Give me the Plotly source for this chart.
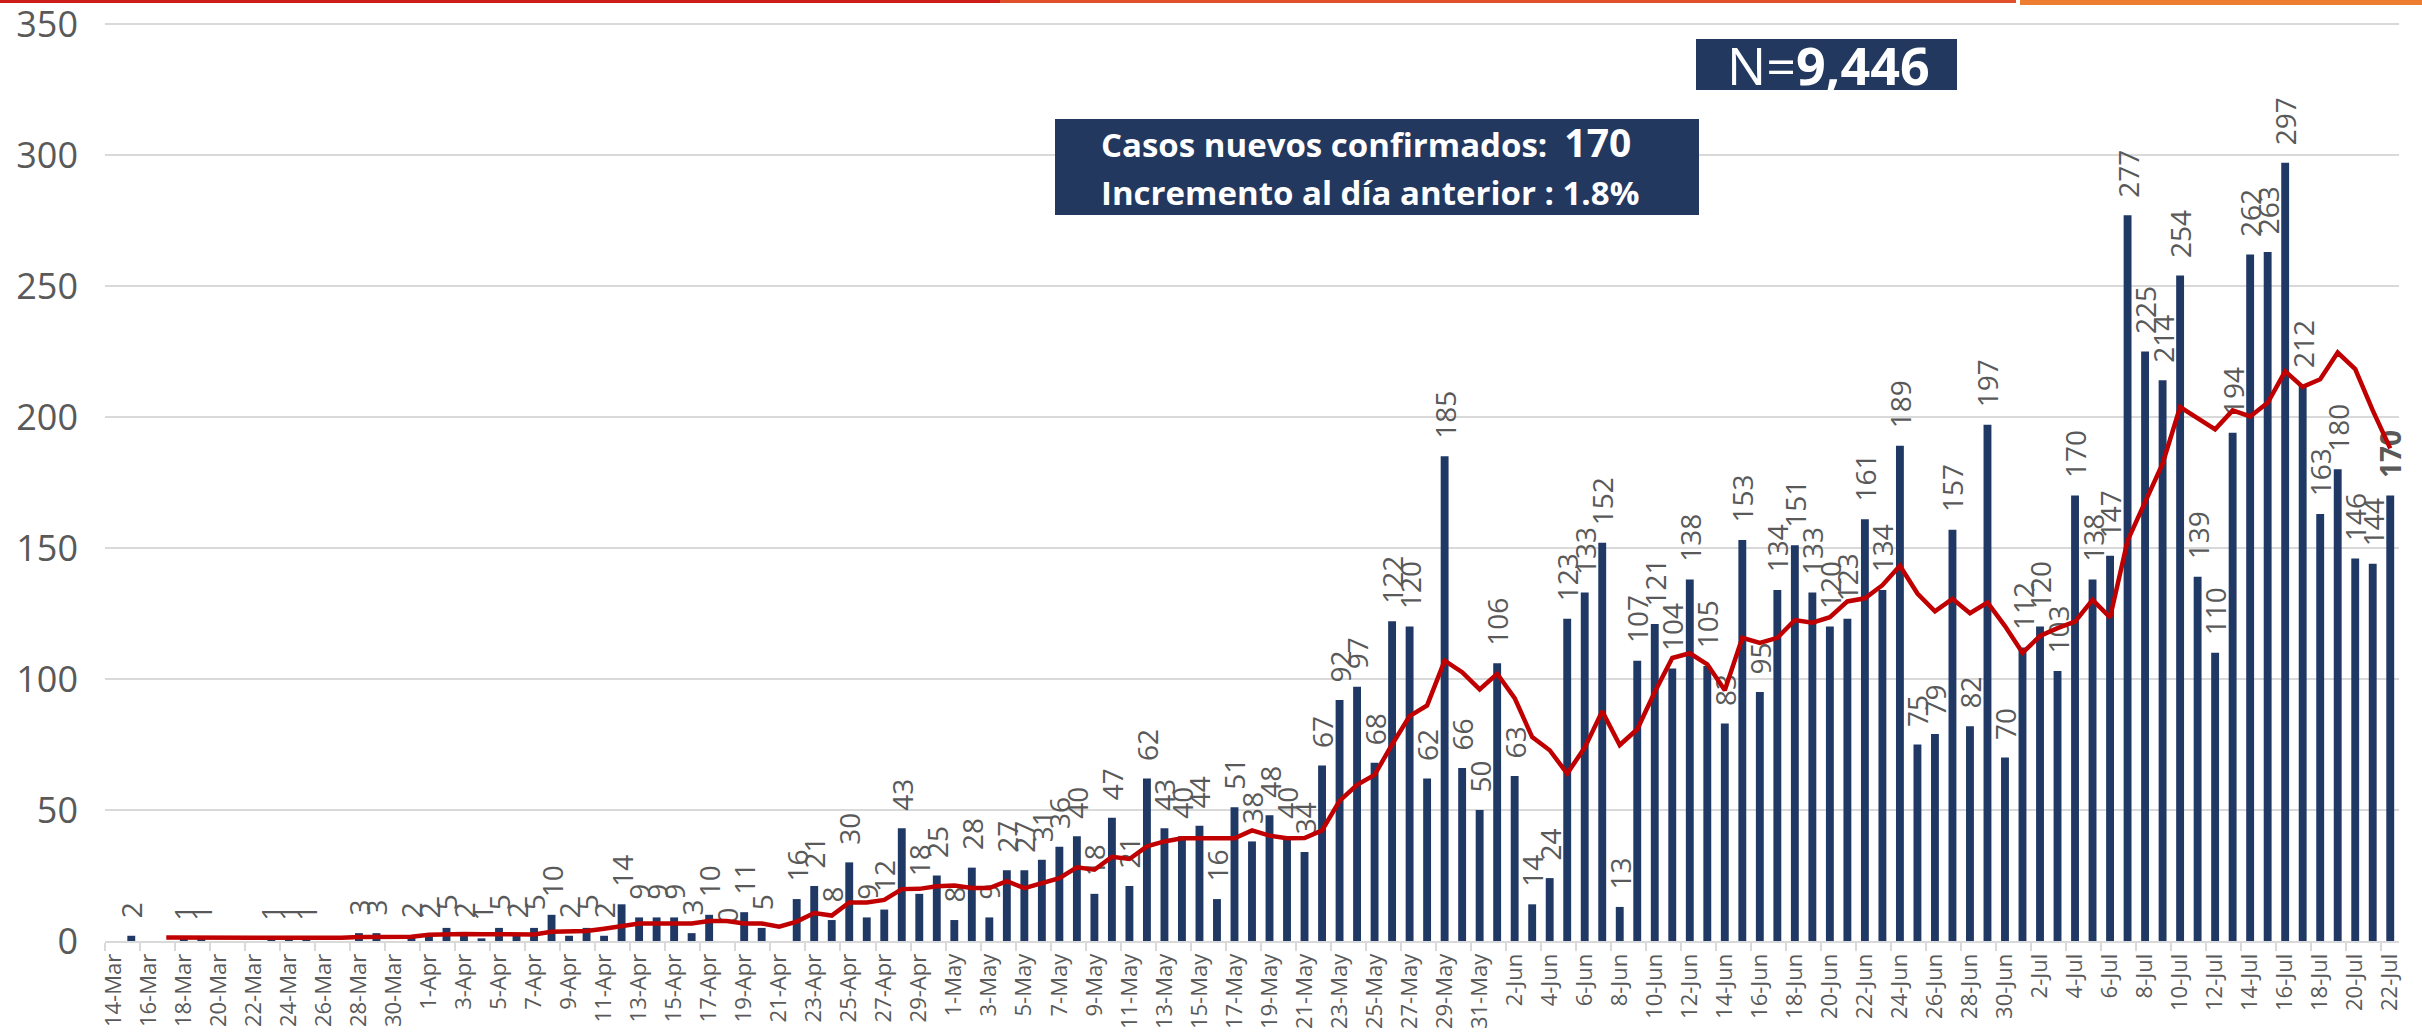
import pandas as pd
import plotly.graph_objects as go

# ---------------- data ----------------
dates = [f"{d.day}-{d.strftime('%b')}" for d in pd.date_range("2020-03-14", "2020-07-22")]

# daily new confirmed cases (None = no bar / no label)
casos = [
    None, 2, None, None, 1, 1, None, None, None, 1, 1, 1, None, None, 3, 3, None, 2,      # Mar 14-31
    2, 5, 2, 1, 5, 2, 5, 10, 2, 5, 2, 14, 9, 9, 9, 3, 10, 0, 11, 5, None, 16, 21, 8,     # Apr 1-24
    30, 9, 12, 43, 18, 25,                                                              # Apr 25-30
    8, 28, 9, 27, 27, 31, 36, 40, 18, 47, 21, 62, 43, 40, 44, 16, 51, 38, 48, 40, 34,   # May 1-21
    67, 92, 97, 68, 122, 120, 62, 185, 66, 50,                                          # May 22-31
    106, 63, 14, 24, 123, 133, 152, 13, 107, 121, 104, 138, 105, 83, 153, 95, 134,      # Jun 1-17
    151, 133, 120, 123, 161, 134, 189, 75, 79, 157, 82, 197, 70,                        # Jun 18-30
    112, 120, 103, 170, 138, 147, 277, 225, 214, 254, 139, 110, 194, 262, 263, 297,     # Jul 1-16
    212, 163, 180, 146, 144, 170,                                                       # Jul 17-22
]

# moving-average line
promedio = [
    None, None, None, 1.3, 1.3, 1.3, 1.3, 1.2, 1.0, 0.9, 0.9, 0.9, 0.9, 1.2, 1.5, 1.5, 1.5, 1.6,
    2.4, 2.7, 2.7, 2.6, 2.5, 2.5, 2.5, 3.5, 3.5, 3.8, 4.7, 5.5, 6.7, 6.7, 6.7, 6.7, 7.6, 7.6,
    6.7, 6.7, 5.5, 7.4, 10.7, 9.7, 14.7, 14.7, 15.7, 19.8, 19.9, 20.9,
    21.2, 20.2, 20.2, 22.8, 20.2, 21.9, 24.0, 28.1, 27.2, 32.1, 31.3, 36.1, 38.0, 39.2, 39.2,
    39.2, 39.2, 42.2, 40.2, 39.2, 39.3, 42.2, 53.5, 59.6, 63.4, 75.0, 85.8, 89.9, 107.0, 102.6, 96.0,
    102.0, 92.7, 77.8, 72.8, 63.9, 73.8, 87.7, 74.8, 80.8, 95.0, 108.0, 109.8, 105.6, 95.7, 115.7,
    113.8, 115.7, 122.5, 121.5, 123.6, 129.6, 130.8, 135.8, 143.2, 132.6, 125.8, 130.6, 125.1,
    129.2, 120.2,
    110.0, 116.4, 119.4, 121.9, 130.2, 123.5, 152.8, 167.7, 182.2, 203.8, 199.3, 195.3, 202.5,
    200.2, 205.4, 217.4, 211.5, 214.4, 224.6, 218.3, 202.5, 188.0,
]

y_ticks = [0, 50, 100, 150, 200, 250, 300, 350]
total_casos = "9,446"
casos_hoy = "170"
incremento = "1.8%"

# ---------------- build ----------------
x_idx = list(range(len(dates)))
NB = "\u00a0\u00a0"
labels = []
for i, v in enumerate(casos):
    if v is None:
        labels.append("")
    elif i == len(casos) - 1:
        labels.append(NB + f"<b>{v}</b>")
    else:
        labels.append(NB + str(v))

fig = go.Figure()
fig.add_trace(go.Bar(
    x=x_idx, y=casos, text=labels, textposition="outside", textangle=-90,
    constraintext="none", cliponaxis=False,
    textfont=dict(family="Open Sans", size=28, color="#595959"),
    marker=dict(color="#203864", line=dict(width=0)),
    hoverinfo="skip",
))
fig.add_trace(go.Scatter(
    x=x_idx, y=promedio, mode="lines",
    line=dict(color="#c00000", width=4.5),
    hoverinfo="skip",
))

even = x_idx[::2]
fig.update_xaxes(
    range=[-0.5, len(dates) - 0.5], automargin=False,
    tickmode="array", tickvals=even, ticktext=[dates[i] for i in even],
    tickangle=-90, ticks="", ticklabelstandoff=2,
    tickfont=dict(family="Open Sans", size=22, color="#595959"),
    showgrid=False, zeroline=False,
    showline=True, linecolor="#d9d9d9", linewidth=2,
    minor=dict(tickmode="array", tickvals=[i - 0.5 for i in even], ticks="outside",
               ticklen=8, tickwidth=2, tickcolor="#d9d9d9", showgrid=False),
)
fig.update_yaxes(
    range=[0, 351.5], tickmode="array", tickvals=y_ticks, automargin=False,
    tickfont=dict(family="Open Sans", size=36, color="#595959"),
    ticklabelstandoff=26, ticklabeloverflow="allow",
    showgrid=True, gridcolor="#d9d9d9", gridwidth=2,
    zeroline=False, showline=False, ticks="",
)

L, R, T, B = 105, 23, 20, 92
W, H = 2422, 1033
PW, PH = W - L - R, H - T - B


def px(x):
    return (x - L) / PW


def py(y):
    return (H - B - y) / PH


box = "#22385f"
shapes = [
    # decorative top stripes
    dict(type="rect", xref="paper", yref="paper", x0=px(0), x1=px(1000), y0=py(3), y1=py(0),
         fillcolor="#cc1f1a", line=dict(width=0), layer="above"),
    dict(type="rect", xref="paper", yref="paper", x0=px(1000), x1=px(2016), y0=py(3), y1=py(0),
         fillcolor="#e0502a", line=dict(width=0), layer="above"),
    dict(type="rect", xref="paper", yref="paper", x0=px(2020), x1=px(2422), y0=py(5), y1=py(0),
         fillcolor="#ed7d31", line=dict(width=0), layer="above"),
    # info boxes
    dict(type="rect", xref="paper", yref="paper", x0=px(1055), x1=px(1699), y0=py(215), y1=py(119),
         fillcolor=box, line=dict(width=0), layer="above"),
    dict(type="rect", xref="paper", yref="paper", x0=px(1696), x1=px(1957), y0=py(90), y1=py(39),
         fillcolor=box, line=dict(width=0), layer="above"),
]

annotations = [
    dict(xref="paper", yref="paper", x=px(1100), y=py(142), xanchor="left", yanchor="middle",
         showarrow=False, borderpad=0,
         text=f"<b>Casos nuevos confirmados:  <span style='font-size:39px'>{casos_hoy}</span></b>",
         font=dict(family="Open Sans", size=33, color="white")),
    dict(xref="paper", yref="paper", x=px(1100), y=py(193), xanchor="left", yanchor="middle",
         showarrow=False, borderpad=0,
         text=f"<b>Incremento al día anterior : {incremento}</b>",
         font=dict(family="Open Sans", size=33, color="white")),
    dict(xref="paper", yref="paper", x=px(1828), y=py(64), xanchor="center", yanchor="middle",
         showarrow=False,
         text=f"N=<b>{total_casos}</b>",
         font=dict(family="Open Sans", size=52, color="white")),
]

fig.update_layout(
    width=W, height=H,
    margin=dict(l=L, r=R, t=T, b=B, pad=0, autoexpand=False),
    paper_bgcolor="white", plot_bgcolor="white",
    showlegend=False, bargap=0.55,
    shapes=shapes, annotations=annotations,
    font=dict(family="Open Sans", color="#595959"),
)

fig.write_html("out.html", config={"displayModeBar": False},
               post_script="document.body.style.margin='0px';")
